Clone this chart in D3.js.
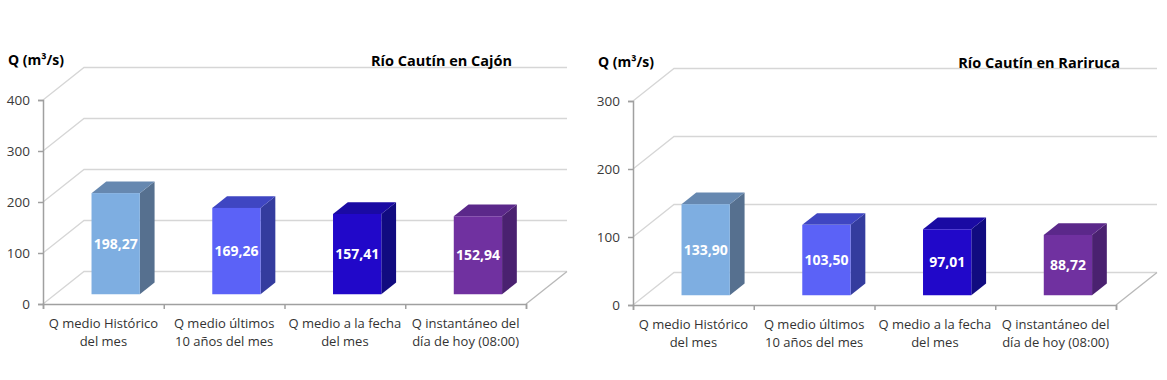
<!DOCTYPE html>
<html>
<head>
<meta charset="utf-8">
<script src="https://cdn.jsdelivr.net/npm/d3@7"></script>
<style>
  html, body { margin: 0; padding: 0; background: #ffffff; }
  svg { display: block; font-family: "Open Sans", "Noto Sans", sans-serif; }
</style>
</head>
<body>
<svg id="chart" width="1167" height="380"></svg>
<script>
// ---- data ----
const categories = [
  "Q medio Histórico del mes",
  "Q medio últimos 10 años del mes",
  "Q medio a la fecha del mes",
  "Q instantáneo del día de hoy (08:00)"
];
const categoryLines = [
  ["Q medio Histórico", "del mes"],
  ["Q medio últimos", "10 años del mes"],
  ["Q medio a la fecha", "del mes"],
  ["Q instantáneo del", "día de hoy (08:00)"]
];
const cajonValues = [198.27, 169.26, 157.41, 152.94];
const rarirucaValues = [133.90, 103.50, 97.01, 88.72];
const cajonTicks = [0, 100, 200, 300, 400];
const rarirucaTicks = [0, 100, 200, 300];
const titles = ["Río Cautín en Cajón", "Río Cautín en Rariruca"];
const yAxisTitle = "Q (m³/s)";
const frontColors = ["#7eaee1", "#5b62f7", "#2108c9", "#7031a0"];
const sideColors  = ["#56708f", "#343c9e", "#110b80", "#4a2170"];
const topColors   = ["#6688b0", "#3f46c2", "#1a0aa3", "#5b288a"];

const fmt = d3.formatLocale({decimal: ",", thousands: ".", grouping: [3], currency: ["", ""]}).format(".2f");

const svg = d3.select("#chart");
const DX = 41, DY = -32.5;        // full depth of the 3D box
const T0 = 0.30, T1 = 0.66;       // bar depth range

function drawChart(cfg) {
  const g = svg.append("g");
  const x0 = cfg.x0, x1 = cfg.x0 + 483;
  const y = d3.scaleLinear().domain([0, d3.max(cfg.ticks)]).range([cfg.yBottom, cfg.yBottom - 204]);
  const x = d3.scaleBand().domain(categories).range([x0, x1]).padding(0);
  const bw = x.bandwidth() * 0.4;

  // gridlines (side wall diagonal + back wall horizontal)
  const grid = g.append("g");
  cfg.ticks.forEach(t => {
    const yy = y(t);
    grid.append("path")
      .attr("d", `M${x0},${yy}L${x0 + DX},${yy + DY}L${x1 + DX},${yy + DY}`)
      .attr("fill", "none").attr("stroke", "#d6d6d6").attr("stroke-width", 1.3);
  });
  // floor right edge
  grid.append("path")
    .attr("d", `M${x1},${y(0)}L${x1 + DX},${y(0) + DY}`)
    .attr("fill", "none").attr("stroke", "#b8b8b8").attr("stroke-width", 1.3);

  // y axis
  const ya = g.append("g").attr("transform", `translate(${x0},0)`)
    .call(d3.axisLeft(y).tickValues(cfg.ticks).tickSize(5).tickPadding(8).tickFormat(d3.format("d")));
  ya.select(".domain").attr("stroke", "#a0a0a0").attr("stroke-width", 1.5);
  ya.selectAll(".tick line").attr("stroke", "#a0a0a0").attr("stroke-width", 1.5);
  ya.selectAll(".tick text").attr("fill", "#3a3a3a").style("font-size", "13.5px").style("font-family", "'Open Sans', sans-serif");

  // x axis line with boundary ticks
  const xb = d3.scaleLinear().domain([0, categories.length]).range([x0, x1]);
  const xa = g.append("g").attr("transform", `translate(0,${y(0)})`)
    .call(d3.axisBottom(xb).tickValues(d3.range(categories.length + 1)).tickSize(5).tickSizeOuter(5).tickFormat(""));
  xa.select(".domain").attr("stroke", "#a0a0a0").attr("stroke-width", 1.5);
  xa.selectAll(".tick line").attr("stroke", "#a0a0a0").attr("stroke-width", 1.5);

  // category labels
  categories.forEach((c, i) => {
    const cx = x(c) + x.bandwidth() / 2;
    const txt = g.append("text").attr("x", cx).attr("y", y(0) + 24)
      .attr("text-anchor", "middle").attr("fill", "#333333")
      .style("font-size", "13px");
    categoryLines[i].forEach((ln, k) => {
      txt.append("tspan").attr("x", cx).attr("dy", k === 0 ? 0 : 18).text(ln);
    });
  });

  // bars
  cfg.values.forEach((v, i) => {
    const c = categories[i];
    const cx = x(c) + x.bandwidth() / 2;
    const fx0 = cx - bw / 2 + DX * T0, fx1 = fx0 + bw;
    const fyB = y(0) + DY * T0, fyT = y(v) + DY * T0;
    const ddx = DX * (T1 - T0), ddy = DY * (T1 - T0);
    const bar = g.append("g");
    bar.append("path")
      .attr("d", `M${fx1},${fyT}L${fx1 + ddx},${fyT + ddy}L${fx1 + ddx},${fyB + ddy}L${fx1},${fyB}Z`)
      .attr("fill", sideColors[i]);
    bar.append("path")
      .attr("d", `M${fx0},${fyT}L${fx1},${fyT}L${fx1 + ddx},${fyT + ddy}L${fx0 + ddx},${fyT + ddy}Z`)
      .attr("fill", topColors[i]);
    bar.append("rect")
      .attr("x", fx0).attr("y", fyT).attr("width", bw).attr("height", fyB - fyT)
      .attr("fill", frontColors[i]);
    bar.append("text")
      .attr("x", fx0 + bw / 2).attr("y", (fyT + fyB) / 2)
      .attr("dy", "0.35em").attr("text-anchor", "middle")
      .attr("fill", "#ffffff").style("font-size", "14px").style("font-weight", "bold")
      .text(fmt(v));
  });

  // titles
  g.append("text").attr("x", cfg.qx).attr("y", cfg.qy).attr("dy", "0.35em")
    .attr("fill", "#000").style("font-size", "14px").style("font-weight", "bold")
    .text(yAxisTitle);
  g.append("text").attr("x", cfg.titleX).attr("y", cfg.titleY).attr("dy", "0.35em")
    .attr("text-anchor", "end").attr("fill", "#000")
    .style("font-size", "14.5px").style("font-weight", "bold")
    .text(cfg.title);
}

drawChart({x0: 43, yBottom: 304, ticks: cajonTicks, values: cajonValues,
  title: titles[0], titleX: 512, titleY: 61, qx: 8, qy: 60});
drawChart({x0: 633, yBottom: 305, ticks: rarirucaTicks, values: rarirucaValues,
  title: titles[1], titleX: 1120, titleY: 63, qx: 598, qy: 62});
</script>
</body>
</html>
